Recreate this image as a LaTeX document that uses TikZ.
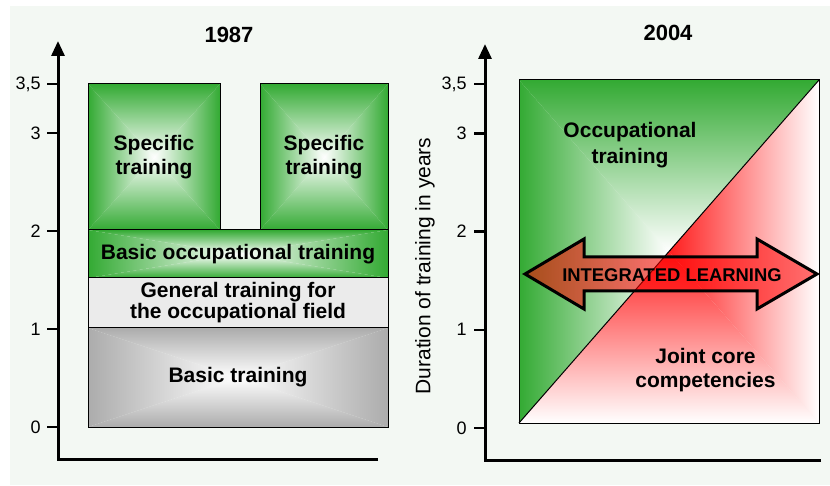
\documentclass[tikz,border=0pt]{standalone}
\usepackage{fontspec}
\setmainfont{Liberation Sans}
\usepackage{tikz}
\usetikzlibrary{positioning}
\usetikzlibrary{arrows.meta}
\usetikzlibrary{backgrounds}

\definecolor{panelbg}{RGB}{243,248,243}
\definecolor{boxgreen}{RGB}{51,170,51}
\definecolor{boxgray}{RGB}{172,172,172}
\definecolor{genfill}{RGB}{235,235,235}
\definecolor{jointred}{RGB}{255,30,30}

\newcommand{\labfont}{\fontsize{10.5}{12}\selectfont\bfseries}
\newcommand{\tickfont}{\fontsize{9}{11}\selectfont}
\newcommand{\pu}{0.5pt}
% colour at the four edges, white in the middle
\newcommand{\edgeshade}[2]{%
  \shade[top color=#2,middle color=#2!40!white,bottom color=white] (#1.north west) -- (#1.north east) -- (#1.center) -- cycle;
  \shade[top color=white,middle color=#2!40!white,bottom color=#2] (#1.south west) -- (#1.south east) -- (#1.center) -- cycle;
  \shade[left color=#2,middle color=#2!40!white,right color=white] (#1.north west) -- (#1.south west) -- (#1.center) -- cycle;
  \shade[left color=white,middle color=#2!40!white,right color=#2] (#1.north east) -- (#1.south east) -- (#1.center) -- cycle;
}

\tikzset{
  boxnode/.style={draw, line width=0.5pt, inner sep=0pt, outer sep=0pt, align=center, font=\labfont},
  textnode/.style={inner sep=0pt, align=center, font=\labfont},
  ticklab/.style={anchor=east, inner sep=0pt, font=\tickfont},
  axis/.style={line width=1.5pt, line join=miter},
  tickmark/.style={line width=1.2pt},
}

\begin{document}
\begin{tikzpicture}[x=0.5pt, y=-0.5pt]
\useasboundingbox (0,0) rectangle (830,486);

%% 1987
\node[textnode, font=\fontsize{11}{13}\selectfont\bfseries] (title1) at (229,35) {1987};
\node[boxnode, minimum width={300*\pu}, minimum height={99*\pu}] (basic) at (238,377.5) {Basic training};
\node[boxnode, fill=genfill, minimum width={300*\pu}, minimum height={50*\pu}, font=\fontsize{10.5}{10.5}\selectfont\bfseries] (general) at (238,303) {General training for\\the occupational field};
\node[boxnode, minimum width={300*\pu}, minimum height={48*\pu}] (basicocc) at (238,254) {Basic occupational training};
\node[boxnode, minimum width={132*\pu}, minimum height={146*\pu}] (spec1) at (154,157) {Specific\\training};
\node[boxnode, minimum width={128*\pu}, minimum height={146*\pu}] (spec2) at (324,157) {Specific\\training};

\coordinate (o1) at (58,459);
\coordinate (ytop1) at (58,41);
\coordinate (xend1) at (378,459);
\draw[axis, -{Triangle[length=7.5pt, width=6.5pt]}] (xend1) -- (o1) -- (ytop1);
\foreach \v/\lab [count=\i] in {0/0, 1/1, 2/2, 3/3, 3.5/{3,5}} {
  \draw[tickmark] (47,{427-98*\v}) -- (58,{427-98*\v});
  \node[ticklab] (lt\i) at (41,{427-98*\v}) {\lab};
}

%% 2004
\node[textnode, font=\fontsize{11}{13}\selectfont\bfseries] (title2) at (668,33) {2004};
\node[draw, line width=0.5pt, inner sep=0pt, outer sep=0pt, minimum width={300*\pu}, minimum height={343*\pu}] (sq) at (669,251.5) {};
\draw[line width=0.5pt] (sq.south west) -- (sq.north east);
\node[textnode, font=\fontsize{10.5}{12.8}\selectfont\bfseries] (occ) at (630,145) {Occupational\\training};
\node[textnode] (joint) at (705.5,370) {Joint core\\competencies};

\coordinate (o2) at (485,460);
\coordinate (ytop2) at (485,44);
\coordinate (xend2) at (821,460);
\draw[axis, -{Triangle[length=7.5pt, width=6.5pt]}] (xend2) -- (o2) -- (ytop2);
\foreach \v/\lab [count=\i] in {0/0, 1/1, 2/2, 3/3, 3.5/{3,5}} {
  \draw[tickmark] (474,{428-98.2*\v}) -- (485,{428-98.2*\v});
  \node[ticklab] (rt\i) at (467,{428-98.2*\v}) {\lab};
}
\node[rotate=90, inner sep=0pt, font=\fontsize{10.5}{12}\selectfont] (ylab) at (425,266) {Duration of training in years};

% double arrow across the diagonal
\begin{scope}[shift={(671,274)}]
  \draw[line width=1.5pt, line join=miter, fill=red, fill opacity=0.55]
    (-146,0) -- (-87,-35) -- (-87,-17) -- (86,-17) -- (86,-35) -- (146,0)
    -- (86,35) -- (86,17) -- (-87,17) -- (-87,35) -- cycle;
  \node[textnode, font=\fontsize{9.2}{11}\selectfont\bfseries] (integ) at (1,1) {INTEGRATED LEARNING};
\end{scope}

\begin{scope}[on background layer]
  \fill[panelbg] (10,6) rectangle (830,485);
  \edgeshade{basic}{boxgray}
  \edgeshade{basicocc}{boxgreen}
  \edgeshade{spec1}{boxgreen}
  \edgeshade{spec2}{boxgreen}
  \shade[left color=boxgreen, middle color=boxgreen!45!white, right color=white] (sq.north west) -- (sq.south west) -- (sq.center) -- cycle;
  \shade[top color=boxgreen, middle color=boxgreen!45!white, bottom color=white] (sq.north west) -- (sq.north east) -- (sq.center) -- cycle;
  \shade[left color=jointred, right color=white] (sq.north east) -- (sq.south east) -- (sq.center) -- cycle;
  \shade[top color=jointred, bottom color=white] (sq.south west) -- (sq.south east) -- (sq.center) -- cycle;
\end{scope}
\end{tikzpicture}
\end{document}
